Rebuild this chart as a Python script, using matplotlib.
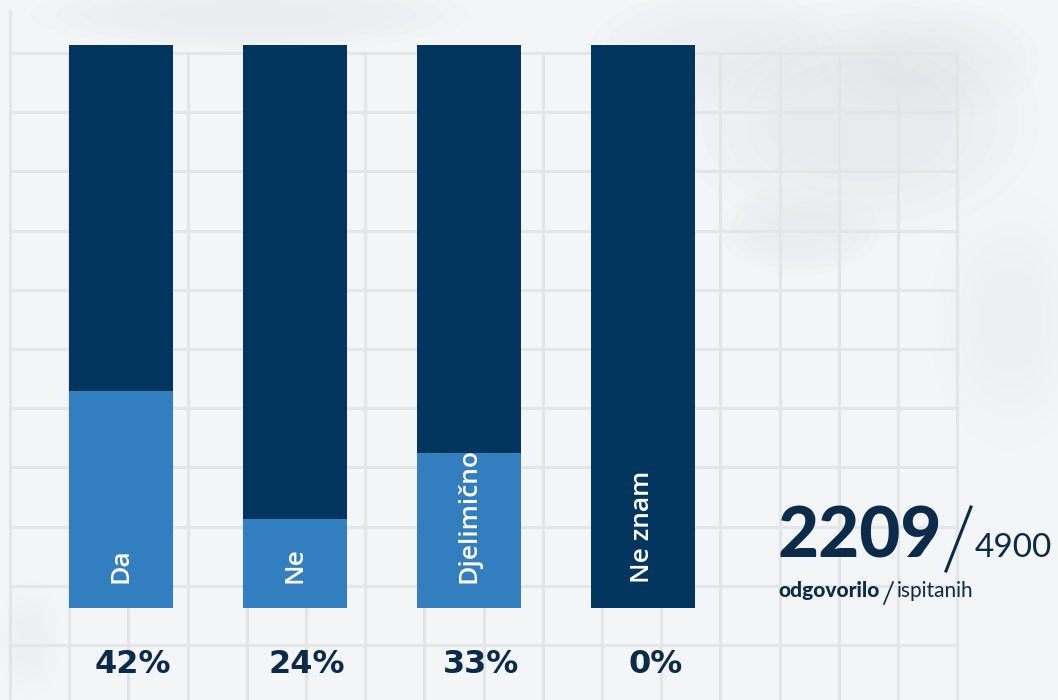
import numpy as np
import matplotlib
matplotlib.use("Agg")
import matplotlib.pyplot as plt
from matplotlib.patches import Ellipse

# --- DATA ---
categories = ["Da", "Ne", "Djelimično", "Ne znam"]
pct_labels = [42, 24, 33, 0]
# light-blue fill height as share of the full bar
fill_share = [38.5, 15.8, 27.5, 0.0]
answered = 2209
surveyed = 4900

DARK = "#02365f"
LIGHT = "#337ebf"
NAVY = "#0c2b4b"
BG = "#f4f5f6"
GRID = "#e4e5e7"

fig = plt.figure(figsize=(10.58, 7), dpi=100)
fig.patch.set_facecolor(BG)

# --- background: cloudy paper + grid (pixel coords) ---
bg = fig.add_axes([0, 0, 1, 1])
bg.set_xlim(0, 1058)
bg.set_ylim(700, 0)
bg.axis("off")

# soft watercolour-ish patches, faded by stacking shrinking ellipses
for (cx, cy, w, h, a) in [(860, 120, 360, 240, 0.22), (720, 50, 260, 120, 0.15),
                          (250, 15, 440, 70, 0.18), (1010, 320, 160, 260, 0.12),
                          (800, 230, 160, 90, 0.18), (930, 60, 220, 120, 0.15),
                          (30, 640, 60, 120, 0.12)]:
    for s in np.linspace(1.0, 0.4, 6):
        bg.add_patch(Ellipse((cx, cy), w * s, h * s, color="#dcdfe3",
                             alpha=a / 3, lw=0, zorder=0))

step = 59.2
for x in 10 + step * np.arange(17):
    bg.plot([x, x], [10 if x < 20 else 53, 700], color=GRID, lw=2.3, zorder=1,
            solid_capstyle="butt")
for y in 53 + step * np.arange(12):
    bg.plot([10, 957], [y, y], color=GRID, lw=2.3, zorder=1, solid_capstyle="butt")

# --- bars ---
bar_w = 104 / 174
ax = fig.add_axes([69 / 1058, 92 / 700, 626 / 1058, 563 / 700])
ax.set_xlim(-bar_w / 2, 3 + bar_w / 2)
ax.set_ylim(0, 100)
ax.axis("off")
ax.patch.set_alpha(0)

idx = np.arange(len(categories))
ax.bar(idx, 100, width=bar_w, color=DARK, zorder=2)
ax.bar(idx, fill_share, width=bar_w, color=LIGHT, zorder=3)

for i, (cat, p) in enumerate(zip(categories, pct_labels)):
    ax.text(i, 4.4, cat, rotation=90, ha="center", va="bottom", color="white",
            fontsize=19, family="Open Sans", fontweight="semibold", zorder=4)
    ax.text(i + 0.07, -10.1, f"{p}%", ha="center", va="center", color=NAVY,
            fontsize=23, family="DejaVu Sans", fontweight="bold", clip_on=False)

# --- response counter ---
bg.text(777, 557, f"{answered}", ha="left", va="baseline", color=NAVY,
        fontsize=51, family="Lato", fontweight="black", zorder=5)
bg.plot([946, 971], [571, 507], color=NAVY, lw=2.2, zorder=5)
bg.text(975, 557, f"{surveyed}", ha="left", va="baseline", color=NAVY,
        fontsize=24, family="Lato", zorder=5)
bg.text(778, 597, "odgovorilo", ha="left", va="baseline", color=NAVY,
        fontsize=15, family="Lato", fontweight="black", zorder=5)
bg.plot([884, 893], [604, 582], color=NAVY, lw=1.2, zorder=5)
bg.text(897, 597, "ispitanih", ha="left", va="baseline", color=NAVY,
        fontsize=15, family="Lato", zorder=5)

plt.savefig("out.png", dpi=100, facecolor=BG)
plt.close()
